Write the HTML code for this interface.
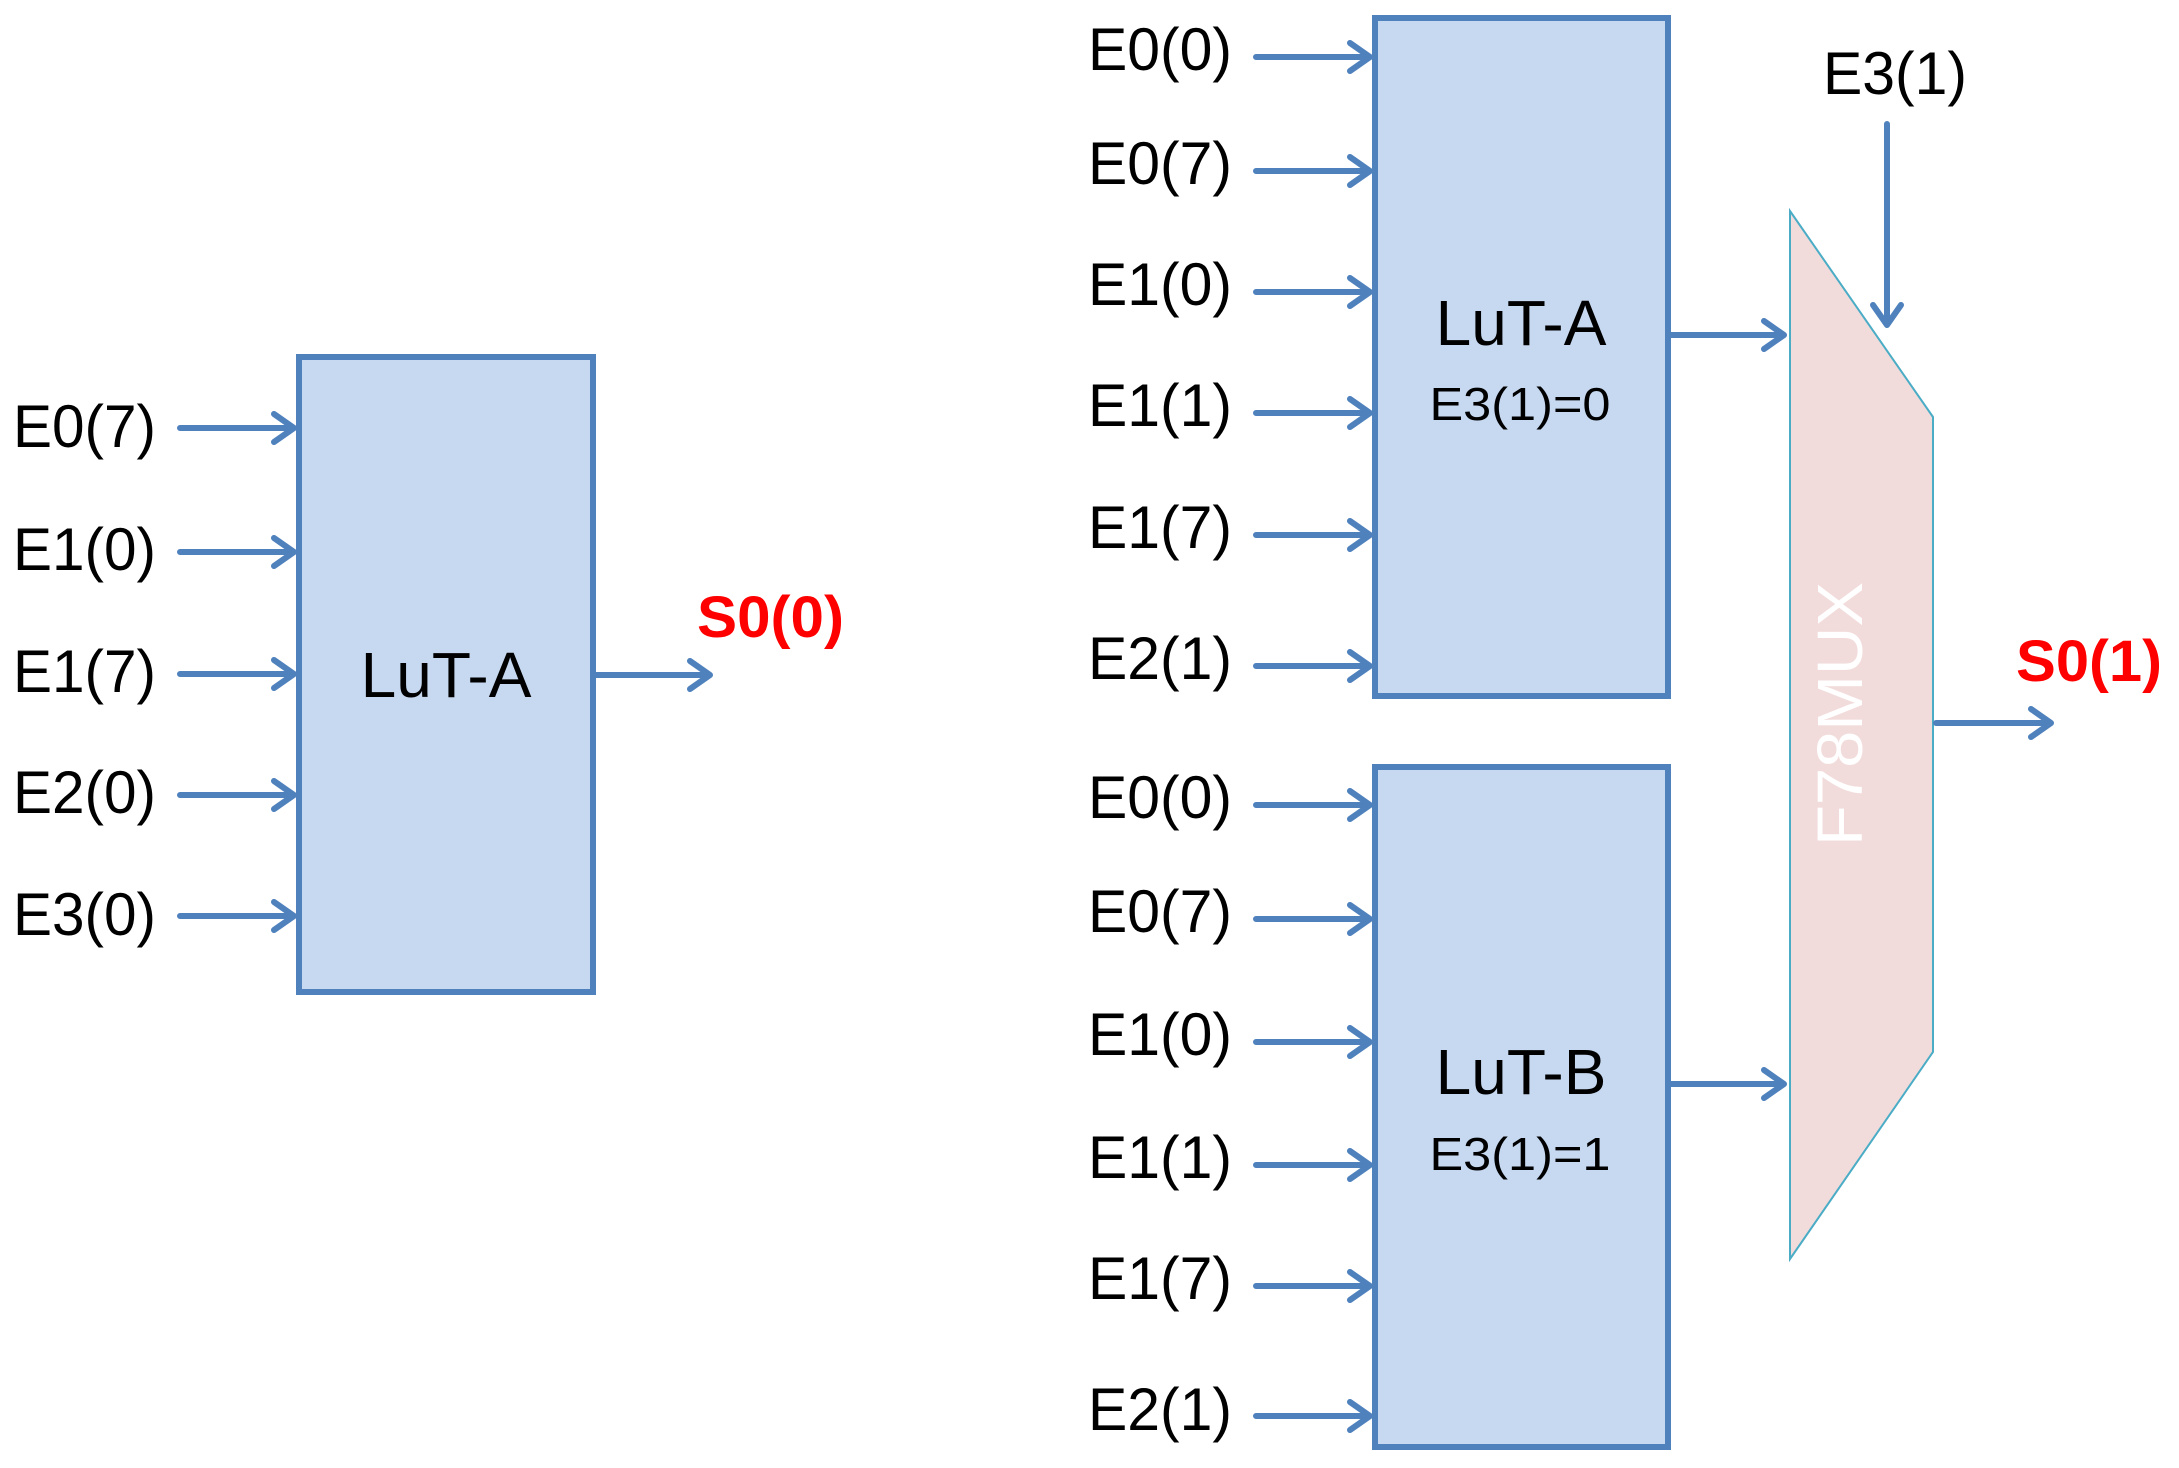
<!DOCTYPE html>
<html><head><meta charset="utf-8"><style>
html,body{margin:0;padding:0;background:#fff;}
svg{display:block;}
text{font-family:"Liberation Sans",sans-serif;}
</style></head><body>
<svg width="2179" height="1468" viewBox="0 0 2179 1468" xmlns="http://www.w3.org/2000/svg">
<defs>
<marker id="ah" markerWidth="10" markerHeight="10" refX="7" refY="5" orient="auto" markerUnits="userSpaceOnUse" viewBox="0 0 10 10" style="overflow:visible">
</marker>
</defs>
<g stroke="#4f81bd" stroke-width="6" fill="#c6d9f1">
<rect x="299" y="357" width="294" height="635"/>
<rect x="1375" y="18" width="293" height="678"/>
<rect x="1375" y="767" width="293" height="680"/>
</g>
<polygon points="1790,211 1933,417 1933,1052 1790,1259" fill="#f2dcdb" stroke="#4bacc6" stroke-width="2"/>
<text x="1880" y="732" font-size="64" fill="#ffffff" text-anchor="middle" transform="rotate(-90 1862 732)" textLength="264" lengthAdjust="spacingAndGlyphs">F78MUX</text>
<g stroke="#4f81bd" stroke-width="6" fill="none" stroke-linecap="round" stroke-linejoin="round" id="arrows"></g>
<script>
(function(){
var g=document.getElementById('arrows');
function h(x1,x2,y){
 var p=document.createElementNS('http://www.w3.org/2000/svg','path');
 p.setAttribute('d','M'+x1+' '+y+' H'+x2+' M'+(x2-20)+' '+(y-14)+' L'+x2+' '+y+' L'+(x2-20)+' '+(y+14));
 g.appendChild(p);
}
[428,552,674,795,916].forEach(function(y){h(180,294,y);});
h(596,710,675);
[57,171,292,413,535,666,805,919,1042,1165,1286,1416].forEach(function(y){h(1256,1370,y);});
h(1671,1784,335);h(1671,1784,1084);h(1936,2051,723);
var p=document.createElementNS('http://www.w3.org/2000/svg','path');
p.setAttribute('d','M1887 124 V325 M1873 305 L1887 325 L1901 305');
g.appendChild(p);
})();
</script>
<g font-size="60" fill="#000">
<text x="13" y="447" textLength="143" lengthAdjust="spacingAndGlyphs">E0(7)</text>
<text x="13" y="570" textLength="143" lengthAdjust="spacingAndGlyphs">E1(0)</text>
<text x="13" y="692" textLength="143" lengthAdjust="spacingAndGlyphs">E1(7)</text>
<text x="13" y="813" textLength="143" lengthAdjust="spacingAndGlyphs">E2(0)</text>
<text x="13" y="935" textLength="143" lengthAdjust="spacingAndGlyphs">E3(0)</text>
<text x="1088" y="70" textLength="144" lengthAdjust="spacingAndGlyphs">E0(0)</text>
<text x="1088" y="184" textLength="144" lengthAdjust="spacingAndGlyphs">E0(7)</text>
<text x="1088" y="305" textLength="144" lengthAdjust="spacingAndGlyphs">E1(0)</text>
<text x="1088" y="426" textLength="144" lengthAdjust="spacingAndGlyphs">E1(1)</text>
<text x="1088" y="548" textLength="144" lengthAdjust="spacingAndGlyphs">E1(7)</text>
<text x="1088" y="679" textLength="144" lengthAdjust="spacingAndGlyphs">E2(1)</text>
<text x="1088" y="818" textLength="144" lengthAdjust="spacingAndGlyphs">E0(0)</text>
<text x="1088" y="932" textLength="144" lengthAdjust="spacingAndGlyphs">E0(7)</text>
<text x="1088" y="1055" textLength="144" lengthAdjust="spacingAndGlyphs">E1(0)</text>
<text x="1088" y="1178" textLength="144" lengthAdjust="spacingAndGlyphs">E1(1)</text>
<text x="1088" y="1299" textLength="144" lengthAdjust="spacingAndGlyphs">E1(7)</text>
<text x="1088" y="1430" textLength="144" lengthAdjust="spacingAndGlyphs">E2(1)</text>
<text x="1823" y="94" textLength="144" lengthAdjust="spacingAndGlyphs">E3(1)</text>
<text x="446" y="697" text-anchor="middle" font-size="64">LuT-A</text>
<text x="1521" y="345" text-anchor="middle" font-size="64">LuT-A</text>
<text x="1521" y="1094" text-anchor="middle" font-size="64">LuT-B</text>
<text x="1520" y="420" text-anchor="middle" font-size="46" textLength="181" lengthAdjust="spacingAndGlyphs">E3(1)=0</text>
<text x="1520" y="1170" text-anchor="middle" font-size="46" textLength="181" lengthAdjust="spacingAndGlyphs">E3(1)=1</text>
</g>
<g font-size="58" font-weight="bold" fill="#ff0000">
<text x="697" y="637" textLength="147" lengthAdjust="spacingAndGlyphs">S0(0)</text>
<text x="2016" y="681" textLength="146" lengthAdjust="spacingAndGlyphs">S0(1)</text>
</g>
</svg>
</body></html>
